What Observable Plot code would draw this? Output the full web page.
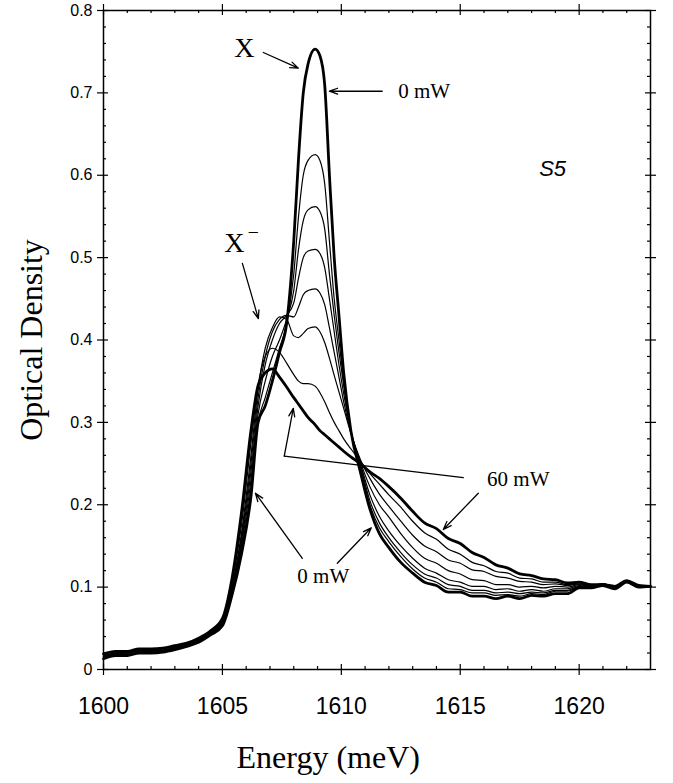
<!DOCTYPE html>
<html><head><meta charset="utf-8">
<script src="https://cdn.jsdelivr.net/npm/d3@7"></script>
<script src="https://cdn.jsdelivr.net/npm/@observablehq/plot@0.6"></script>
<style>body{margin:0;background:#fff}</style>
</head><body><div id="chart"></div>
<script>
// Energy grid (meV)
const energy = [1600,1600.5,1601,1601.5,1602,1602.5,1603,1603.5,1604,1604.5,1605,
  1605.4,1605.8,1606.2,1606.5,1606.8,1607.1,1607.4,1607.7,1608,1608.2,1608.4,1608.6,1608.9,1609.1,1609.3,1609.5,1609.7,1609.9,1610.1,1610.4,1610.8,1611.2,1611.6,1612,1612.5,
  1613,1613.5,1614,1614.5,1615,1615.5,1616,1616.5,1617,1617.5,1618,1618.5,1619,1619.5,1620,1620.5,1621,1621.5,1622,1622.5,1623];

// Optical density, from 0 mW to 60 mW
const od_0mW = [.013,.017,.017,.020,.020,.021,.024,.028,.033,.042,.053,
  .09,.14,.21,.30,.32,.35,.385,.42,.52,.62,.70,.735,.753,.745,.71,.60,.50,.43,.36,.29,.24,.195,.165,.148,.13,
  .117,.106,.102,.094,.094,.089,.089,.086,.089,.086,.090,.089,.092,.092,.099,.099,.102,.098,.106,.100,.101];
const od_p1 = [.014,.018,.018,.021,.021,.022,.025,.029,.034,.043,.055,
  .09,.145,.22,.30,.33,.36,.39,.42,.48,.55,.60,.618,.625,.618,.59,.52,.45,.40,.35,.29,.245,.20,.172,.155,.137,
  .122,.111,.106,.098,.097,.093,.093,.090,.091,.089,.092,.091,.095,.095,.100,.100,.102,.099,.106,.101,.101];
const od_p2 = [.015,.018,.019,.021,.022,.022,.026,.029,.035,.044,.056,
  .092,.15,.23,.31,.35,.38,.40,.425,.46,.51,.545,.558,.562,.556,.535,.48,.43,.385,.345,.29,.248,.205,.178,.16,.142,
  .127,.116,.111,.103,.101,.096,.096,.093,.094,.092,.094,.093,.096,.096,.101,.100,.103,.099,.107,.101,.101];
const od_p3 = [.016,.019,.020,.022,.022,.023,.026,.030,.035,.045,.057,
  .095,.155,.24,.32,.37,.40,.42,.43,.445,.475,.50,.508,.51,.505,.488,.45,.41,.37,.335,.29,.25,.212,.186,.168,.15,
  .135,.123,.117,.109,.106,.101,.101,.097,.098,.095,.097,.095,.098,.098,.102,.101,.103,.100,.107,.101,.101];
const od_p4 = [.016,.020,.020,.023,.023,.023,.027,.030,.036,.045,.058,
  .098,.16,.25,.33,.38,.41,.425,.43,.428,.44,.455,.46,.462,.457,.443,.415,.385,.355,.325,.288,.252,.222,.2,.185,.165,
  .148,.135,.129,.120,.116,.109,.108,.103,.103,.100,.101,.099,.101,.100,.103,.101,.104,.100,.107,.102,.101];
const od_p5 = [.017,.020,.021,.023,.024,.024,.027,.031,.036,.046,.059,
  .10,.165,.26,.34,.39,.415,.428,.425,.405,.403,.408,.414,.416,.41,.397,.378,.357,.337,.317,.287,.255,.232,.213,.198,.18,
  .163,.150,.143,.133,.129,.121,.119,.113,.111,.107,.106,.103,.104,.102,.104,.102,.104,.101,.107,.102,.102];
const od_p6 = [.018,.021,.021,.024,.024,.025,.028,.031,.037,.046,.060,
  .105,.175,.275,.345,.38,.39,.385,.372,.358,.35,.347,.347,.344,.336,.325,.312,.3,.29,.28,.268,.253,.238,.225,.212,.197,
  .180,.166,.158,.146,.140,.130,.126,.119,.117,.111,.110,.106,.106,.103,.105,.102,.104,.101,.107,.102,.102];
const od_60mW = [.019,.022,.022,.025,.025,.026,.029,.032,.038,.047,.062,
  .11,.19,.29,.345,.36,.365,.355,.343,.33,.322,.314,.306,.297,.29,.285,.28,.275,.27,.265,.258,.25,.24,.232,.222,.208,
  .192,.178,.171,.159,.153,.142,.136,.127,.123,.116,.114,.110,.109,.105,.106,.103,.103,.101,.108,.102,.101];

const seriesNames = ["0 mW","p1","p2","p3","p4","p5","p6","60 mW"];
const seriesValues = [od_0mW, od_p1, od_p2, od_p3, od_p4, od_p5, od_p6, od_60mW];
const thickSeries = ["0 mW", "60 mW"];

// Ticks
const xTickLabels = [1600,1605,1610,1615,1620];
const xMinor = [1601,1602,1603,1604,1606,1607,1608,1609,1611,1612,1613,1614,1616,1617,1618,1619,1621,1622];
const yTickLabels = [0,0.1,0.2,0.3,0.4,0.5,0.6,0.7,0.8];
const yMinor = [0.02,0.04,0.06,0.08,0.12,0.14,0.16,0.18,0.22,0.24,0.26,0.28,0.32,0.34,0.36,0.38,0.42,0.44,0.46,0.48,0.52,0.54,0.56,0.58,0.62,0.64,0.66,0.68,0.72,0.74,0.76,0.78];

// Annotations (data coordinates)
const labelText = ["X","0 mW","S5","X","60 mW","0 mW"];
const labelX = [1605.92,1612.39,1618.32,1605.5,1616.13,1608.15];
const labelY = [0.754,0.702,0.608,0.518,0.231,0.113];
const arrowX1 = [1606.72,1611.72,1605.84,1607.6,1615.76,1608.36,1609.83];
const arrowY1 = [0.749,0.702,0.493,0.259,0.214,0.135,0.129];
const arrowX2 = [1608.19,1609.50,1606.51,1607.98,1614.29,1606.39,1611.26];
const arrowY2 = [0.730,0.702,0.426,0.317,0.170,0.214,0.172];
const leaderX = [1615.13,1607.6];
const leaderY = [0.233,0.259];

const rows = [];
seriesNames.forEach((s, i) => energy.forEach((e, j) => rows.push({s, e, od: seriesValues[i][j]})));
const thin = rows.filter(d => !thickSeries.includes(d.s));
const thick = rows.filter(d => thickSeries.includes(d.s));

const W = 673, H = 783, mL = 103, mR = 23, mT = 10, mB = 114;
const fw = W - mL - mR, fh = H - mT - mB;
const serif = "Liberation Serif, Times New Roman, serif";
const sans = "Liberation Sans, Arial, Helvetica, sans-serif";

const labels = labelText.map((t, i) => ({t, x: labelX[i], y: labelY[i]}));
const arrows = arrowX1.map((x1, i) => ({x1, y1: arrowY1[i], x2: arrowX2[i], y2: arrowY2[i]}));
const leader = leaderX.map((x, i) => ({x, y: leaderY[i]}));

const chart = Plot.plot({
  width: W, height: H,
  marginLeft: mL, marginRight: mR, marginTop: mT, marginBottom: mB,
  style: {fontFamily: sans, background: "white", color: "black"},
  x: {domain: [1600, 1623]},
  y: {domain: [0, 0.8]},
  marks: [
    Plot.line(thin, {x: "e", y: "od", z: "s", stroke: "black", strokeWidth: 1.2, curve: "monotone-x"}),
    Plot.line(thick, {x: "e", y: "od", z: "s", stroke: "black", strokeWidth: 2.8, curve: "monotone-x"}),
    Plot.frame({stroke: "black", strokeWidth: 1.5}),
    // minor ticks (inside)
    Plot.tickX(xMinor, {x: d => d, insetTop: fh - 3, strokeWidth: 1.2}),
    Plot.tickX(xMinor, {x: d => d, insetBottom: fh - 3, strokeWidth: 1.2}),
    Plot.tickY(yMinor, {y: d => d, insetRight: fw - 3, strokeWidth: 1.2}),
    Plot.tickY(yMinor, {y: d => d, insetLeft: fw - 3, strokeWidth: 1.2}),
    // major ticks (crossing)
    Plot.tickX(xTickLabels, {x: d => d, insetTop: fh - 5, insetBottom: -6, strokeWidth: 1.2}),
    Plot.tickX(xTickLabels, {x: d => d, insetTop: -6, insetBottom: fh - 5, strokeWidth: 1.2}),
    Plot.tickY(yTickLabels, {y: d => d, insetLeft: -6, insetRight: fw - 5, strokeWidth: 1.2}),
    Plot.tickY(yTickLabels, {y: d => d, insetLeft: fw - 5, insetRight: -6, strokeWidth: 1.2}),
    Plot.axisX(xTickLabels, {tickSize: 0, tickPadding: 28, fontSize: 23, label: null, fontFamily: sans,
      tickFormat: d => String(d)}),
    Plot.axisY(yTickLabels, {tickSize: 0, tickPadding: 11, fontSize: 16, label: null, fontFamily: sans,
      tickFormat: d => d === 0 ? "0" : d.toFixed(1)}),
    // axis titles
    Plot.text(["Energy (meV)"], {x: 1609.45, frameAnchor: "bottom", dy: 88, text: d => d,
      fontSize: 32, fontFamily: serif, textAnchor: "middle", lineAnchor: "middle"}),
    Plot.text(["Optical Density"], {y: 0.40, frameAnchor: "left", dx: -72, rotate: -90, text: d => d,
      fontSize: 32, fontFamily: serif, textAnchor: "middle", lineAnchor: "middle"}),
    // annotations
    Plot.text(labels.filter((d, i) => i === 0 || i === 3), {x: "x", y: "y", text: "t", fontSize: 28, fontFamily: serif, textAnchor: "middle", lineAnchor: "middle"}),
    Plot.text([{x: 1606.3, y: 0.532}], {x: "x", y: "y", text: () => "–", fontSize: 18, fontFamily: serif, textAnchor: "middle", lineAnchor: "middle"}),
    Plot.text(labels.filter((d, i) => i === 1 || i === 4 || i === 5), {x: "x", y: "y", text: "t", fontSize: 21, fontFamily: serif, textAnchor: "start", lineAnchor: "middle"}),
    Plot.text(labels.filter((d, i) => i === 2), {x: "x", y: "y", text: "t", fontSize: 22, fontFamily: sans, fontStyle: "italic", textAnchor: "start", lineAnchor: "middle"}),
    Plot.line(leader, {x: "x", y: "y", stroke: "black", strokeWidth: 1.2}),
    Plot.arrow(arrows, {x1: "x1", y1: "y1", x2: "x2", y2: "y2", stroke: "black", strokeWidth: 1.3, headLength: 10, headAngle: 40})
  ]
});
document.getElementById("chart").append(chart);
</script>
</body></html>
